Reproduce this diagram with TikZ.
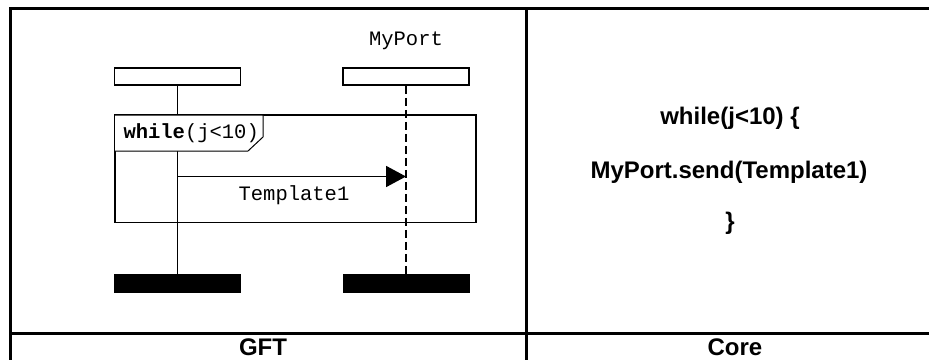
\documentclass[tikz,border=0pt]{standalone}
\usepackage{fontspec}
\setmainfont{Liberation Sans}
\setmonofont{Liberation Mono}
\usetikzlibrary{arrows.meta, positioning}

\tikzset{
  headbox/.style={draw, line width=1.5pt, fill=white, minimum width=126pt, minimum height=17pt, inner sep=0pt},
  endbar/.style={draw, fill=black, minimum width=126pt, minimum height=18pt, inner sep=0pt},
  monotext/.style={font=\fontsize{20.5}{24}\selectfont\ttfamily},
  coretext/.style={font=\fontsize{24}{28}\selectfont\bfseries},
  msg/.style={line width=1.8pt, -{Triangle[length=20pt, width=21pt]}}
}

\begin{document}
\begin{tikzpicture}[x=1pt, y=-1pt, line join=miter]
\useasboundingbox (0,0) rectangle (929,359);
\clip (0,0) rectangle (929,359);
% table
\coordinate (TL) at (10,8);
\coordinate (TR) at (944,8);
\coordinate (TM) at (526,8);
\coordinate (BL) at (10,372);
\coordinate (BM) at (526,372);
\coordinate (RL) at (10,333);
\coordinate (RR) at (944,333);
\draw[line width=3pt] (BL) -- (TL) -- (TR);
\draw[line width=3pt] (TM) -- (BM);
\draw[line width=3pt] (RL) -- (RR);
\node[coretext] (gft) at (263,347) {GFT};
\node[coretext] (core) at (735,347) {Core};
% instances
\node[headbox] (headA) at (177.5,76.5) {};
\node[headbox] (headB) at (406,76.5) {};
\node[monotext, above=14pt of headB] (port) {MyPort};
\node[endbar] (endA) at (177.5,283.5) {};
\node[endbar] (endB) at (406,283.5) {};
% inline frame
\draw[line width=1.8pt] (115,115) rectangle (476,222.5);
\draw[line width=1.5pt] (headA.south) -- (endA.north);
\draw[line width=1.5pt, dash pattern=on 8pt off 4pt] (headB.south) -- (endB.north);
\draw[line width=1pt, fill=white] (115,115) -- (263,115) -- (263,137) -- (248,151) -- (115,151);
\node[monotext, anchor=west] (cond) at (120,133) {\textbf{while}(j<10)};
% message
\coordinate (src) at (headA.south |- 0,176.5);
\coordinate (dst) at (headB.south |- 0,176.5);
\draw[msg] (src) -- (dst);
\node[monotext] (tmpl) at (294,195) {Template1};
% core notation
\node[coretext] (c1) at (730,118) {while(j<10) \{};
\node[coretext] (c2) at (729,172) {MyPort.send(Template1)};
\node[coretext] (c3) at (730,223) {\}};
\end{tikzpicture}
\end{document}
